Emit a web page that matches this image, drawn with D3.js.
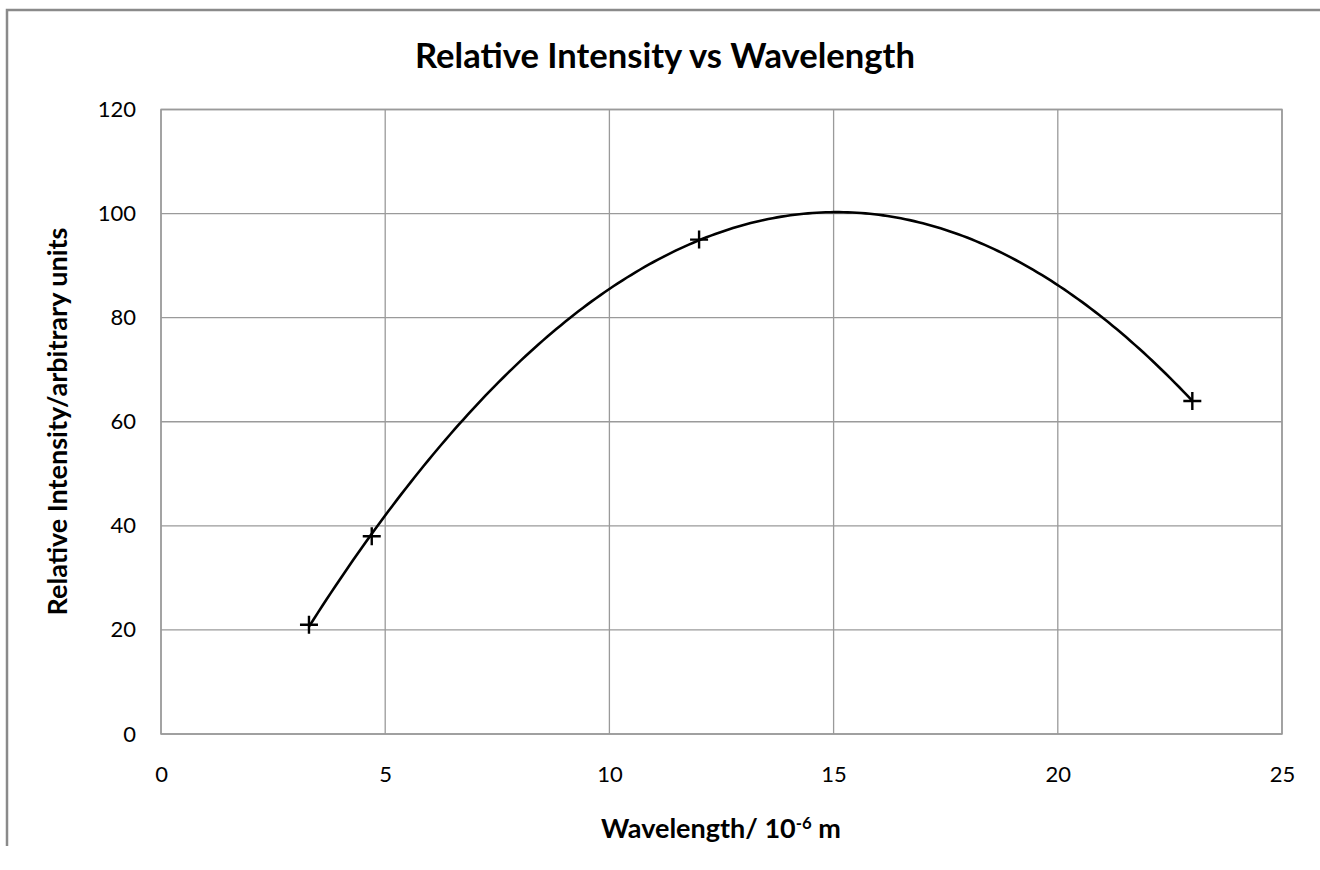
<!DOCTYPE html>
<html>
<head>
<meta charset="utf-8">
<script src="https://cdn.jsdelivr.net/npm/d3@7/dist/d3.min.js"></script>
<style>
  html, body { margin: 0; padding: 0; background: #fff; }
  svg { display: block; }
  text { font-family: Lato, "Open Sans", sans-serif; fill: #000; }
</style>
</head>
<body>
<svg id="chart" width="1320" height="870"></svg>
<script>
// ---- data ----
const wavelength = [3.3, 4.7, 12, 23];          // 10^-6 m
const intensity  = [21, 38, 95, 64];            // arbitrary units
const xTicks = [0, 5, 10, 15, 20, 25];
const yTicks = [0, 20, 40, 60, 80, 100, 120];
const titleText = "Relative Intensity vs Wavelength";
const xTitleText = "Wavelength/ 10";
const xTitleSup = "-6";
const xTitleEnd = " m";
const yTitleText = "Relative Intensity/arbitrary units";

// ---- layout ----
const W = 1320, H = 870;
const plot = { left: 161, top: 109.5, right: 1282, bottom: 734 };

const svg = d3.select("#chart");

const x = d3.scaleLinear().domain([0, 25]).range([plot.left, plot.right]);
const y = d3.scaleLinear().domain([0, 120]).range([plot.bottom, plot.top]);

// outer chart frame
svg.append("path")
  .attr("d", `M7,846 L7,10 L${W + 5},10`)
  .attr("fill", "none")
  .attr("stroke", "#8a8a8a")
  .attr("stroke-width", 2.5);

// gridlines
const gridColor = "#9a9a9a";
svg.append("g").selectAll("line").data(yTicks).join("line")
  .attr("x1", plot.left).attr("x2", plot.right)
  .attr("y1", d => y(d)).attr("y2", d => y(d))
  .attr("stroke", gridColor).attr("stroke-width", 1.3);
svg.append("g").selectAll("line").data(xTicks).join("line")
  .attr("y1", plot.top).attr("y2", plot.bottom)
  .attr("x1", d => x(d)).attr("x2", d => x(d))
  .attr("stroke", gridColor).attr("stroke-width", 1.3);

// axes via d3 axis generators (labels only)
const yAxis = svg.append("g")
  .attr("transform", `translate(${plot.left},0)`)
  .call(d3.axisLeft(y).tickValues(yTicks).tickSize(0).tickPadding(25).tickFormat(d3.format("d")));
const xAxis = svg.append("g")
  .attr("transform", `translate(0,${plot.bottom})`)
  .call(d3.axisBottom(x).tickValues(xTicks).tickSize(0).tickPadding(32).tickFormat(d3.format("d")));
[yAxis, xAxis].forEach(a => {
  a.select(".domain").remove();
  a.selectAll("text")
    .style("font-family", "Lato, 'Open Sans', sans-serif")
    .style("font-size", "22px")
    .attr("fill", "#000");
});

// plot area border
svg.append("rect")
  .attr("x", plot.left).attr("y", plot.top)
  .attr("width", plot.right - plot.left).attr("height", plot.bottom - plot.top)
  .attr("fill", "none").attr("stroke", gridColor).attr("stroke-width", 1.5);

// polynomial (order 2) least-squares trendline computed from the data
function polyFit(xs, ys, order) {
  const n = order + 1;
  const A = Array.from({ length: n }, () => new Array(n + 1).fill(0));
  for (let r = 0; r < n; r++) {
    for (let c = 0; c < n; c++) A[r][c] = d3.sum(xs, v => Math.pow(v, r + c));
    A[r][n] = d3.sum(xs.map((v, i) => Math.pow(v, r) * ys[i]));
  }
  for (let i = 0; i < n; i++) {
    let p = i;
    for (let k = i + 1; k < n; k++) if (Math.abs(A[k][i]) > Math.abs(A[p][i])) p = k;
    [A[i], A[p]] = [A[p], A[i]];
    for (let k = i + 1; k < n; k++) {
      const f = A[k][i] / A[i][i];
      for (let j = i; j <= n; j++) A[k][j] -= f * A[i][j];
    }
  }
  const coef = new Array(n).fill(0);
  for (let i = n - 1; i >= 0; i--) {
    let s = A[i][n];
    for (let j = i + 1; j < n; j++) s -= A[i][j] * coef[j];
    coef[i] = s / A[i][i];
  }
  return xv => coef.reduce((acc, c, i) => acc + c * Math.pow(xv, i), 0);
}
const trend = polyFit(wavelength, intensity, 2);
const [xmin, xmax] = d3.extent(wavelength);
const trendPts = d3.range(0, 201).map(i => {
  const xv = xmin + (xmax - xmin) * i / 200;
  return [xv, trend(xv)];
});
svg.append("path")
  .datum(trendPts)
  .attr("d", d3.line().x(d => x(d[0])).y(d => y(d[1])))
  .attr("fill", "none")
  .attr("stroke", "#000")
  .attr("stroke-width", 2.6)
  .attr("stroke-linejoin", "round");

// markers (+)
const pts = wavelength.map((w, i) => ({ w, v: intensity[i] }));
svg.append("g").selectAll("path").data(pts).join("path")
  .attr("d", d => {
    const cx = x(d.w), cy = y(d.v), r = 9;
    return `M${cx - r},${cy} H${cx + r} M${cx},${cy - r} V${cy + r}`;
  })
  .attr("stroke", "#000").attr("stroke-width", 2.4).attr("fill", "none");

// fit text helper
function fitWidth(sel, target) {
  const node = sel.node();
  const base = parseFloat(sel.style("font-size"));
  const len = node.getComputedTextLength();
  sel.style("font-size", (base * target / len) + "px");
}

// title
const title = svg.append("text")
  .attr("x", 665).attr("y", 68)
  .attr("text-anchor", "middle")
  .style("font-weight", "bold")
  .style("font-size", "30px")
  .text(titleText);
fitWidth(title, 500);

// x axis title
const xt = svg.append("text")
  .attr("x", 721).attr("y", 838)
  .attr("text-anchor", "middle")
  .style("font-weight", "bold")
  .style("font-size", "24px");
xt.append("tspan").text(xTitleText);
xt.append("tspan").text(xTitleSup).attr("dy", -9).style("font-size", "0.62em");
xt.append("tspan").text(xTitleEnd).attr("dy", 9);
{
  const len = xt.node().getComputedTextLength();
  xt.style("font-size", (24 * 240 / len) + "px");
}

// y axis title
const yt = svg.append("text")
  .attr("transform", `translate(67,${(615 + 228) / 2}) rotate(-90)`)
  .attr("text-anchor", "middle")
  .style("font-weight", "bold")
  .style("font-size", "22px")
  .text(yTitleText);
fitWidth(yt, 388);
</script>
</body>
</html>
